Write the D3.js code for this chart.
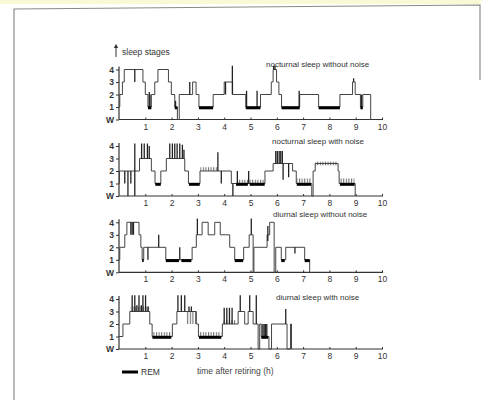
<!DOCTYPE html>
<html><head><meta charset="utf-8">
<script src="https://cdn.jsdelivr.net/npm/d3@7"></script>
<style>html,body{margin:0;padding:0;background:#fff;} svg{display:block}</style>
</head><body><svg id="c" width="481" height="403"></svg>
<script>
// ---------- data ----------
const stageLabels = ["W", "1", "2", "3", "4"];
const stageTicks = [0, 1, 2, 3, 4];
const hourTicks = [1, 2, 3, 4, 5, 6, 7, 8, 9, 10];
const panelTitles = ["nocturnal sleep without noise", "nocturnal sleep with noise",
                     "diurnal sleep without noise", "diurnal sleep with noise"];
const yAxisTitle = "sleep stages";
const xAxisTitle = "time after retiring (h)";
const legendLabel = "REM";

// [time (h), stage] step points; last point closes the record
const steps1 = [[0,1],[0.03,2],[0.13,3],[0.20,4],[0.91,3],[1.0,2],[1.10,1],[1.23,2],[1.36,3],[1.48,4],[1.88,3],[1.99,2],[2.12,1],[2.22,0],[2.29,2],[2.80,3],[2.93,2],[3.04,1],[3.58,2],[4.0,3],[4.32,2],[4.82,1],[5.38,2],[5.79,3],[5.86,4],[5.99,3],[6.08,2],[6.18,1],[6.87,2],[7.59,1],[8.40,2],[8.88,3],[8.98,2],[9.18,1],[9.27,2],[9.57,0]];
const rem1 = [[1.10,1.23],[2.12,2.22],[3.04,3.58],[4.82,5.38],[6.18,6.87],[7.59,8.40],[9.18,9.27]];
const spikes1 = [[0.60,4,3],[1.15,1,2.2],[1.18,1,2],[2.15,1,1.5],[2.69,2,3],[4.05,2,3],[4.31,2,4.3],[4.85,1,2.3],[5.25,1,2.3],[5.88,4,4.3],[5.93,4,4.3],[6.85,1,2.3],[8.92,3,3.3],[9.22,2,1]];
const hatch1 = [];

const steps2 = [[0,1],[0.02,2],[0.78,3],[1.23,2],[1.37,1],[1.59,2],[1.80,3],[2.50,2],[2.64,1],[3.08,2],[4.27,1],[5.55,2],[5.86,2.6],[6.60,2],[6.74,1],[7.33,0],[7.38,2],[7.46,2.6],[8.33,2],[8.37,1],[8.98,0]];
const rem2 = [[1.38,1.59],[2.66,3.07],[4.45,4.90],[4.97,5.54],[6.76,7.30],[8.40,8.96]];
const spikes2 = [[0.22,2,1],[0.34,2,0],[0.45,2,1],[0.60,0,4.2],[0.86,3,4.2],[0.96,3,4.2],[1.08,3,4.2],[1.15,3,4],[1.93,3,4.2],[2.03,3,4.2],[2.12,3,4.2],[2.21,3,4.2],[2.31,3,4.2],[2.41,3,4.1],[2.47,3,3.7],[3.76,2,3.5],[3.89,2,1],[4.33,1,0],[4.50,1,2],[4.93,1,2],[5.96,2.6,3.6],[6.02,2.6,3.6],[6.09,2.6,3.6],[6.15,2.6,3.6],[6.21,2.6,3.6],[6.24,2.6,1.3],[6.45,2.6,1.5]];
const hatch2 = [[3.09,3.76,2,2.3],[4.49,5.54,1,1.3],[6.74,7.32,1,1.4],[7.46,8.33,2.45,2.75],[8.37,8.96,1,1.4]];

const steps3 = [[0,1],[0.03,2],[0.22,3],[0.30,4],[0.76,3],[0.83,2],[0.88,1],[0.94,2],[1.78,1],[2.78,2],[2.94,3],[3.16,4],[3.39,3],[3.64,4],[3.85,3],[4.21,2],[4.40,1],[4.74,2],[4.95,3],[5.10,0],[5.13,2],[5.63,3],[5.73,4],[5.90,0],[5.96,2],[6.17,1],[6.34,2],[7.06,1],[7.25,0]];
const rem3 = [[0.88,0.94],[1.78,2.28],[2.37,2.75],[4.40,4.72],[6.17,6.30],[7.06,7.25]];
const spikes3 = [[0.45,4,3],[0.50,4,3],[0.55,4,3],[1.10,2,1],[1.51,2,3],[2.31,1,2],[2.98,3,4.3],[5.03,3,4.3],[5.66,2.5,3.7],[6.69,2,1.5]];
const hatch3 = [];

const steps4 = [[0,1],[0.15,2],[0.41,3],[1.17,2],[1.26,1],[2.03,2],[2.20,3],[2.94,2],[3.02,1],[3.93,2],[4.53,3],[4.78,2],[4.91,3],[5.10,2],[5.29,0],[5.35,2],[5.41,1],[5.70,0],[5.80,2],[6.39,0],[6.52,2],[6.56,0]];
const rem4 = [[1.27,1.99],[3.04,3.89],[5.41,5.67]];
const spikes4 = [[0.50,3,4.3],[0.60,3,4.3],[0.68,3,3.5],[0.76,3,4.3],[0.85,3,3.5],[0.91,3,4.3],[1.01,3,4.3],[1.10,3,3.4],[2.24,3,4.3],[2.37,3,4.3],[2.50,3,4.3],[2.66,3,3.4],[2.75,3,3.4],[4.0,2,3.3],[4.1,2,3.3],[4.2,2,3.3],[4.3,2,3.3],[4.61,3,4.3],[4.97,3,4.3],[5.22,2,4.3],[5.47,1,2],[5.52,1,2],[5.57,1,2],[5.62,1,2],[6.34,2,3.2]];
const hatch4 = [[1.27,1.99,1,1.35],[3.04,3.89,1,1.35],[2.55,2.94,2,3],[3.95,4.45,2,2.3],[0.45,1.15,3,3.4]];

// ---------- layout ----------
const svg = d3.select("#c");
const FONT = "'Liberation Sans', Arial, sans-serif";
const ink = "#333";

svg.append("rect").attr("width",481).attr("height",403).attr("fill","#fff");
svg.append("rect").attr("width",481).attr("height",4).attr("fill","#fbf8d6");
// scan frame
svg.append("path").attr("d","M14,400 L14,9 L480,5 L480,80").attr("fill","none")
   .attr("stroke","#8a8a8a").attr("stroke-width",1.2);

const defs = svg.append("defs");
const pat = defs.append("pattern").attr("id","hatch").attr("patternUnits","userSpaceOnUse")
  .attr("width",2.6).attr("height",10);
pat.append("line").attr("x1",0.6).attr("x2",0.6).attr("y1",0).attr("y2",10)
  .attr("stroke","#333").attr("stroke-width",0.8);

const x = d3.scaleLinear().domain([0,10]).range([119,382]);
const baseY = [119.5, 196, 272.3, 349];
const titleY = [67, 144, 217, 300];

const panels = [
  {steps: steps1, rem: rem1, spikes: spikes1, hatch: hatch1, title: panelTitles[0], tx: 266},
  {steps: steps2, rem: rem2, spikes: spikes2, hatch: hatch2, title: panelTitles[1], tx: 272},
  {steps: steps3, rem: rem3, spikes: spikes3, hatch: hatch3, title: panelTitles[2], tx: 273},
  {steps: steps4, rem: rem4, spikes: spikes4, hatch: hatch4, title: panelTitles[3], tx: 276},
];

panels.forEach((p, i) => {
  const y = d3.scaleLinear().domain([0,4]).range([baseY[i], baseY[i]-50]);
  const g = svg.append("g");

  // x axis
  const xa = g.append("g").attr("transform",`translate(0,${baseY[i]})`)
    .call(d3.axisBottom(x).tickValues(hourTicks).tickSize(-2).tickPadding(4).tickFormat(d3.format("d")));
  xa.select(".domain").attr("stroke",ink).attr("stroke-width",1.2).attr("d",`M${x(0)},0H${x(10)+1}`);
  xa.selectAll(".tick line").attr("stroke",ink);
  xa.selectAll("text").attr("font-family",FONT).attr("font-size",8.5).attr("fill","#333");

  // y axis
  const ya = g.append("g").attr("transform",`translate(${x(0)},0)`)
    .call(d3.axisLeft(y).tickValues(stageTicks).tickSize(3).tickPadding(2).tickFormat((d,k)=>stageLabels[k]));
  ya.select(".domain").attr("stroke",ink).attr("stroke-width",1.2).attr("d",`M0,${baseY[i]}V${y(4.25)}`);
  ya.selectAll(".tick line").attr("stroke",ink);
  ya.selectAll("text").attr("font-family",FONT).attr("font-size",8.5).attr("font-weight","bold").attr("fill","#333");

  // hatch blocks
  g.selectAll(".h").data(p.hatch).join("rect")
    .attr("x",d=>x(d[0])).attr("width",d=>x(d[1])-x(d[0]))
    .attr("y",d=>y(d[3])).attr("height",d=>y(d[2])-y(d[3]))
    .attr("fill","url(#hatch)");

  // hypnogram
  const line = d3.line().x(d=>x(d[0])).y(d=>y(d[1])).curve(d3.curveStepAfter);
  g.append("path").attr("d",line(p.steps)).attr("fill","none")
    .attr("stroke","#444").attr("stroke-width",1);

  // spikes
  g.selectAll(".s").data(p.spikes).join("line")
    .attr("x1",d=>x(d[0])).attr("x2",d=>x(d[0]))
    .attr("y1",d=>y(d[1])).attr("y2",d=>y(d[2]))
    .attr("stroke","#222").attr("stroke-width",1.3);

  // REM
  g.selectAll(".r").data(p.rem).join("line")
    .attr("x1",d=>x(d[0])).attr("x2",d=>x(d[1]))
    .attr("y1",y(1)+0.8).attr("y2",y(1)+0.8)
    .attr("stroke","#000").attr("stroke-width",3);

  // title
  g.append("text").attr("x",p.tx).attr("y",titleY[i])
    .attr("font-family",FONT).attr("font-size",8).attr("fill","#333").text(p.title);
});

// y axis title with arrow
svg.append("line").attr("x1",116).attr("x2",116).attr("y1",57).attr("y2",45)
  .attr("stroke",ink).attr("stroke-width",1);
svg.append("path").attr("d","M113.8,48 L116,44 L118.2,48 Z").attr("fill",ink);
svg.append("text").attr("x",122).attr("y",55).attr("font-family",FONT).attr("font-size",8.5)
  .attr("fill","#333").text(yAxisTitle);

// legend
svg.append("line").attr("x1",122).attr("x2",138).attr("y1",372).attr("y2",372)
  .attr("stroke","#000").attr("stroke-width",3);
svg.append("text").attr("x",141).attr("y",375).attr("font-family",FONT).attr("font-size",8.5)
  .attr("fill","#333").text(legendLabel);
svg.append("text").attr("x",197).attr("y",374).attr("font-family",FONT).attr("font-size",8.5)
  .attr("fill","#444").text(xAxisTitle);
</script>
</body></html>
